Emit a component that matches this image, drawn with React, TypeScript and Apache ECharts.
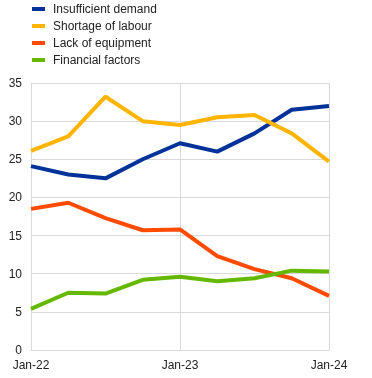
import React, { useEffect, useRef } from "react";
import * as echarts from "echarts";

const categories = ["Jan-22", "Apr-22", "Jul-22", "Oct-22", "Jan-23", "Apr-23", "Jul-23", "Oct-23", "Jan-24"];
const insufficientDemand = [24.1, 23.0, 22.5, 25.0, 27.1, 26.0, 28.4, 31.5, 32.0];
const shortageOfLabour = [26.1, 28.0, 33.2, 30.0, 29.5, 30.5, 30.8, 28.4, 24.7];
const lackOfEquipment = [18.5, 19.3, 17.3, 15.7, 15.8, 12.3, 10.6, 9.4, 7.1];
const financialFactors = [5.4, 7.5, 7.4, 9.2, 9.6, 9.0, 9.4, 10.4, 10.3];
const seriesNames = ["Insufficient demand", "Shortage of labour", "Lack of equipment", "Financial factors"];
const seriesColors = ["#003299", "#FFB400", "#FF4B00", "#65B800"];

export default function App() {
  const ref = useRef<HTMLDivElement>(null);
  useEffect(() => {
    if (!ref.current) return;
    const chart = echarts.init(ref.current, null, { renderer: "svg" });
    const data = [insufficientDemand, shortageOfLabour, lackOfEquipment, financialFactors];
    chart.setOption({
      animation: false,
      textStyle: { fontFamily: "Liberation Sans, Arial, sans-serif" },
      legend: {
        orient: "vertical",
        left: 32,
        top: 3,
        padding: 0,
        itemWidth: 13,
        itemHeight: 4,
        itemGap: 5,
        icon: "rect",
        textStyle: { fontSize: 12, color: "#222", padding: [0, 0, 0, 3] },
        data: seriesNames,
      },
      grid: { left: 31, right: 43, top: 83, bottom: 28 },
      xAxis: {
        type: "category",
        data: categories,
        boundaryGap: false,
        axisTick: { show: false },
        axisLine: { show: true, lineStyle: { color: "#d9d9d9", width: 1 } },
        axisLabel: { interval: 3, color: "#222", fontSize: 12, margin: 9 },
        splitLine: { show: true, interval: 3, lineStyle: { color: "#d9d9d9", width: 1 } },
      },
      yAxis: {
        type: "value",
        min: 0,
        max: 35,
        interval: 5,
        axisLine: { show: true, lineStyle: { color: "#d9d9d9", width: 1 } },
        axisTick: { show: false },
        axisLabel: { color: "#222", fontSize: 12, margin: 9 },
        splitLine: { show: true, lineStyle: { color: "#d9d9d9", width: 1 } },
      },
      series: data.map((d, i) => ({
        name: seriesNames[i],
        type: "line",
        data: d,
        symbol: "none",
        color: seriesColors[i],
        lineStyle: { width: 4, color: seriesColors[i] },
        z: 2 + i,
      })),
    });
    return () => chart.dispose();
  }, []);
  return <div ref={ref} style={{ position: "fixed", left: 0, top: 0, width: 372, height: 378 }} />;
}
